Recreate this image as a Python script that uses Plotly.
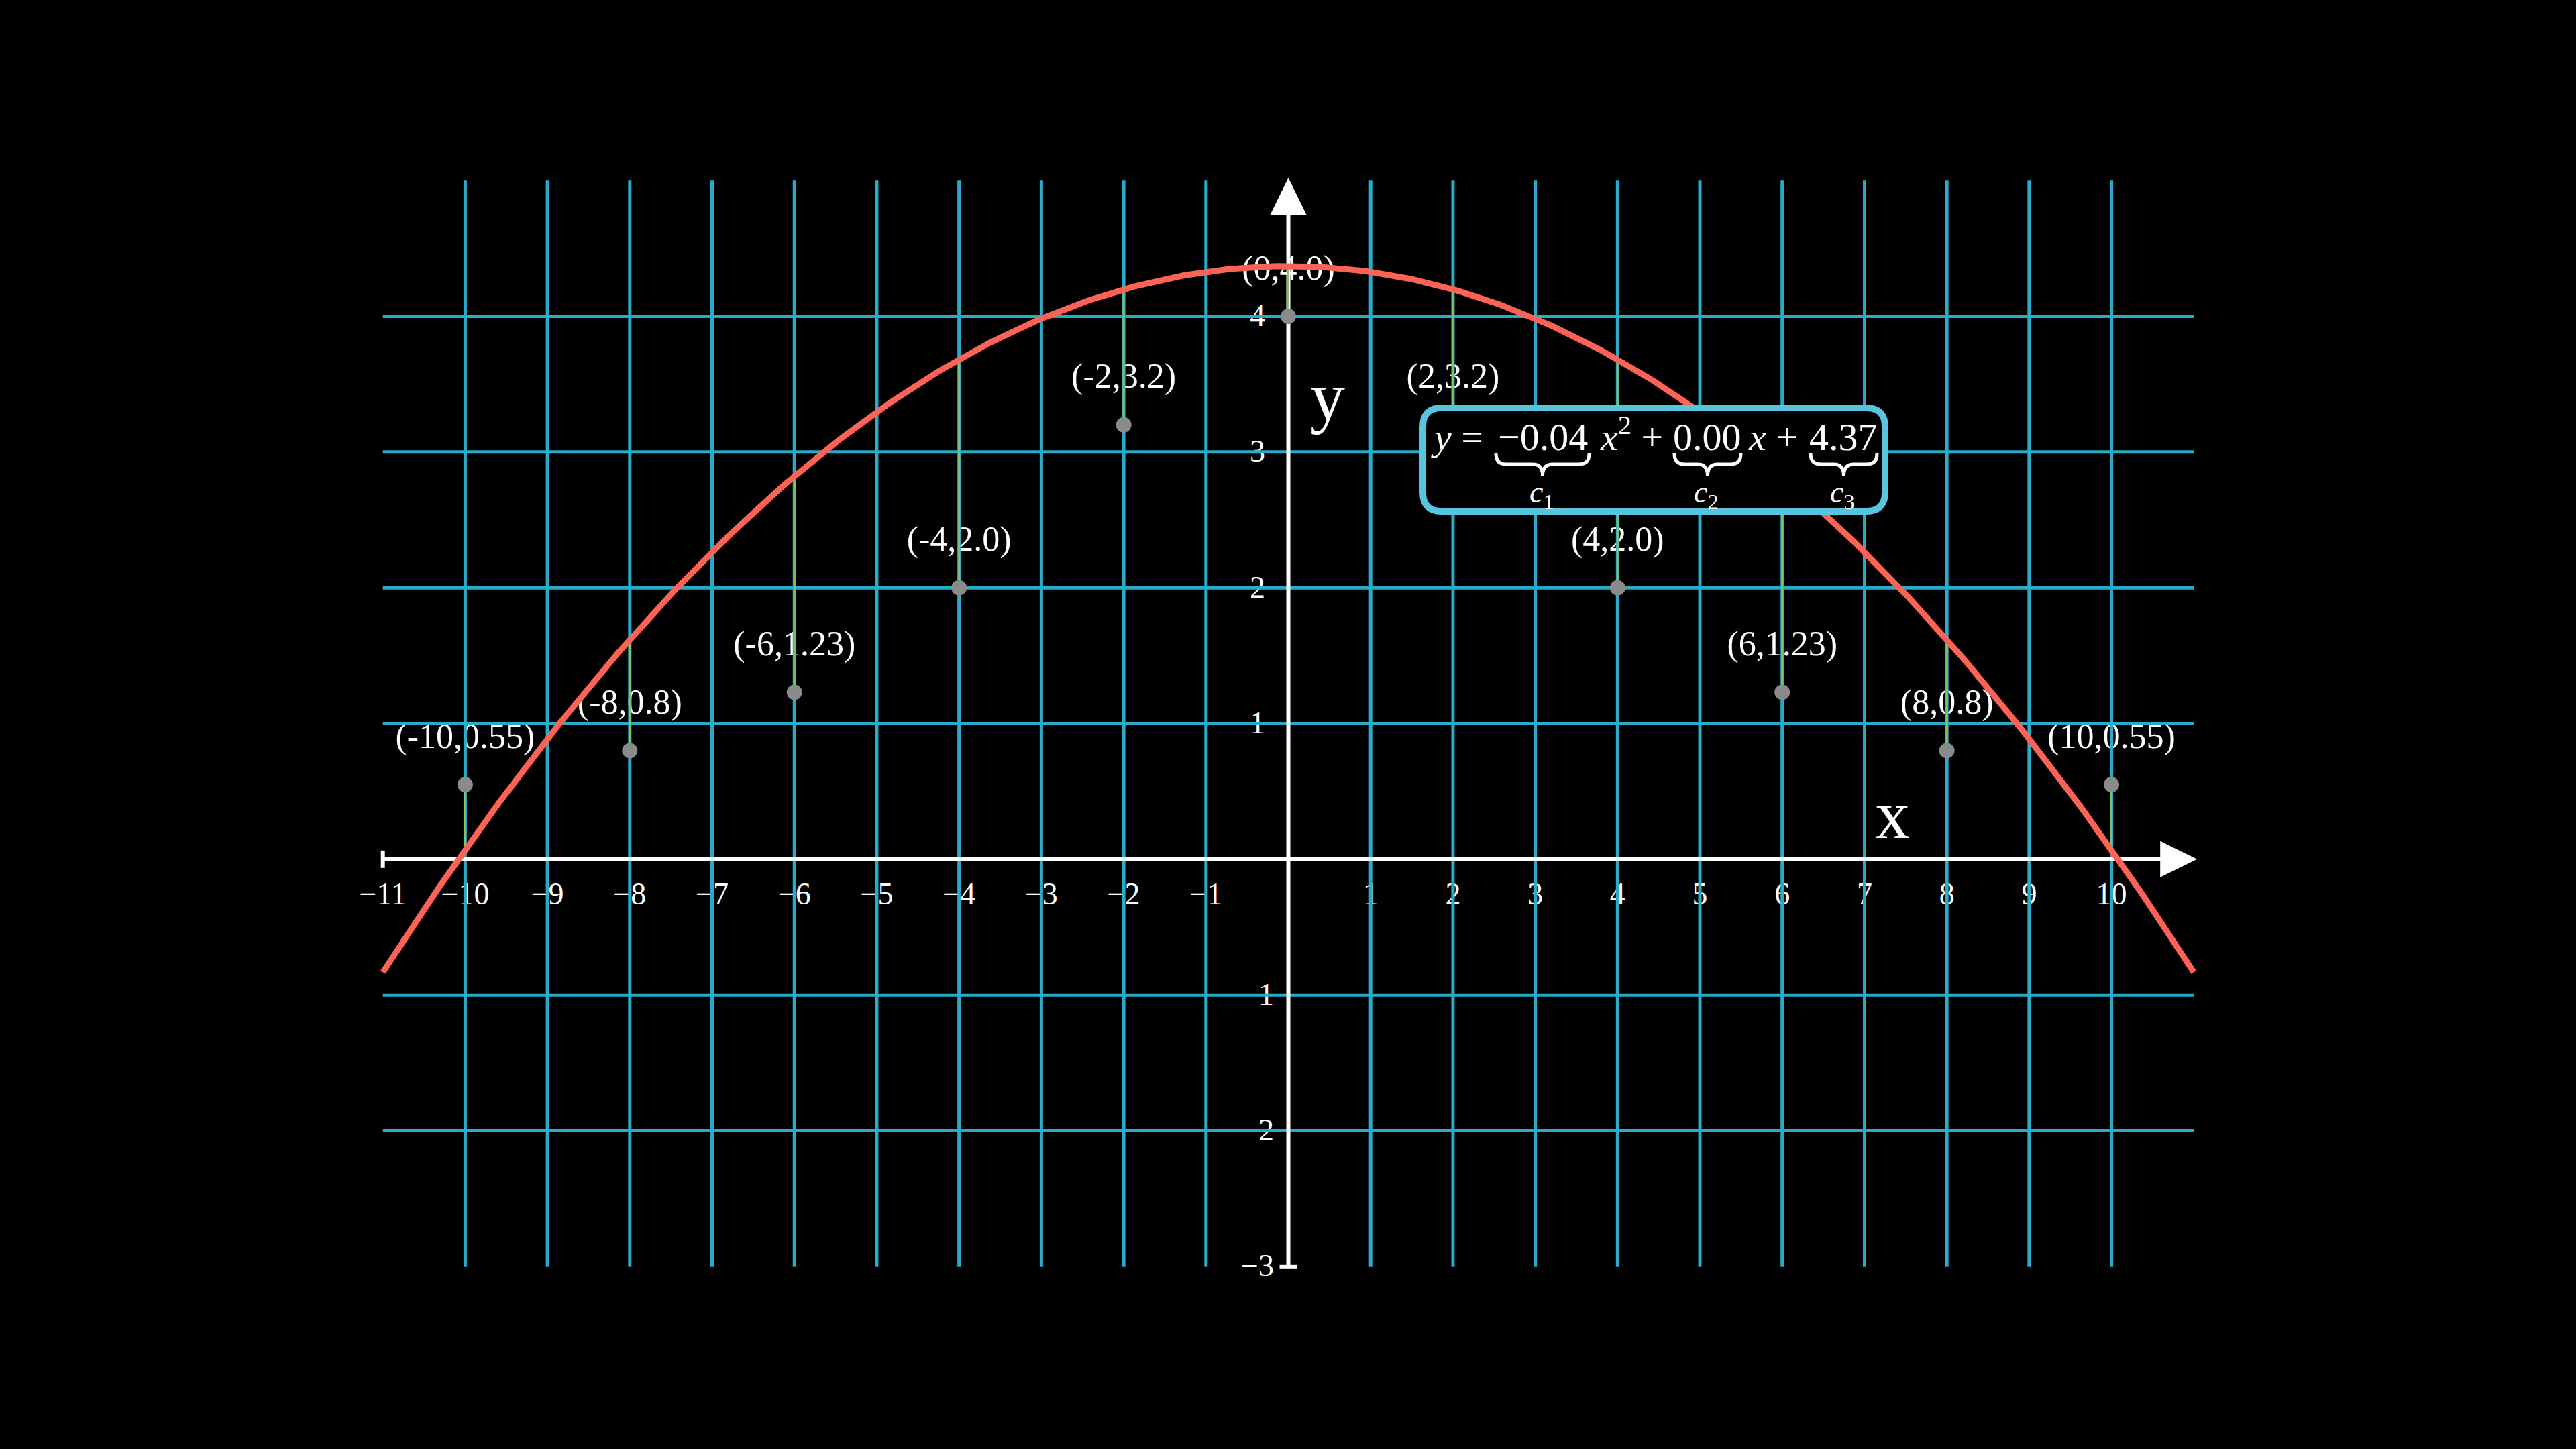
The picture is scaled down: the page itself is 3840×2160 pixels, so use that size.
import numpy as np
import plotly.graph_objects as go

# ------------------------------------------------------------------ data
x_pts = [-10, -8, -6, -4, -2, 0, 2, 4, 6, 8, 10]
y_pts = [0.55, 0.8, 1.23, 2.0, 3.2, 4.0, 3.2, 2.0, 1.23, 0.8, 0.55]
point_labels = ["(-10,0.55)", "(-8,0.8)", "(-6,1.23)", "(-4,2.0)", "(-2,3.2)", "(0,4.0)",
                "(2,3.2)", "(4,2.0)", "(6,1.23)", "(8,0.8)", "(10,0.55)"]
coefs = [-0.043, 0.0, 4.37]          # c1, c2, c3 of the fitted curve
x_tick_vals = [-11, -10, -9, -8, -7, -6, -5, -4, -3, -2, -1, 1, 2, 3, 4, 5, 6, 7, 8, 9, 10]
x_tick_text = ["−11", "−10", "−9", "−8", "−7", "−6", "−5", "−4", "−3", "−2", "−1",
               "1", "2", "3", "4", "5", "6", "7", "8", "9", "10"]
y_tick_vals = [-3, -2, -1, 1, 2, 3, 4]
y_tick_text = ["−3", "−2", "−1", "1", "2", "3", "4"]
x_grid_vals = [-10, -9, -8, -7, -6, -5, -4, -3, -2, -1, 1, 2, 3, 4, 5, 6, 7, 8, 9, 10]
y_grid_vals = [-2, -1, 1, 2, 3, 4]
x_span = [-11, 11]
y_span = [-3, 5]

# ------------------------------------------------------------------ style
BG = "#000000"
GRID = "#29ABCA"
AXIS = "#FFFFFF"
CURVE = "#FC6255"
RESID = "#83C167"
DOT = "#8A8A8A"
BOX = "#58C4DD"
SERIF = "Liberation Serif, DejaVu Serif, serif"

W, H = 3840, 2160
ML, MR, MT, MB = 448, 447, 168, 171
XR = [-12, 12]
YR = [-3.5, 5.5]
UX = (W - ML - MR) / (XR[1] - XR[0])     # px per x unit
UY = (H - MT - MB) / (YR[1] - YR[0])     # px per y unit
X0 = ML - XR[0] * UX                     # pixel of x = 0
Y0 = MT + YR[1] * UY                     # pixel of y = 0


def px2x(px):
    return (px - X0) / UX


def px2y(py):
    return (Y0 - py) / UY


def f(x):
    return coefs[0] * x ** 2 + coefs[1] * x + coefs[2]


fig = go.Figure()

# point labels (under grid, like the reference)
lab_off = 68 / UY
fig.add_trace(go.Scatter(
    x=x_pts, y=[v + lab_off for v in y_pts], text=point_labels, mode="text",
    textposition="middle center", textfont=dict(family=SERIF, size=52, color="white"),
    hoverinfo="skip", showlegend=False))

# tick labels
fig.add_trace(go.Scatter(
    x=x_tick_vals, y=[px2y(Y0 + 56)] * len(x_tick_vals), text=x_tick_text, mode="text",
    textposition="middle center", textfont=dict(family=SERIF, size=46, color="white"),
    hoverinfo="skip", showlegend=False))
y_lab_text = []
for v, t in zip(y_tick_vals, y_tick_text):
    if v in y_grid_vals and t.startswith("−"):
        t = '<span style="color:%s">−</span>%s' % (GRID, t[1:])
    y_lab_text.append(t)
fig.add_trace(go.Scatter(
    x=[px2x(X0 - 46)] * len(y_tick_vals), y=[v - 3 / UY for v in y_tick_vals],
    text=y_lab_text, mode="text",
    textposition="middle center", textfont=dict(family=SERIF, size=46, color="white"),
    hoverinfo="skip", showlegend=False))

# grid lines
gx, gy = [], []
for v in x_grid_vals:
    gx += [v, v, None]
    gy += [y_span[0], y_span[1], None]
for v in y_grid_vals:
    gx += [x_span[0], x_span[1], None]
    gy += [v, v, None]
fig.add_trace(go.Scatter(x=gx, y=gy, mode="lines", line=dict(color=GRID, width=5),
                         hoverinfo="skip", showlegend=False))

# axes
x_tip = px2x(X0 + 11.04 * UX)
y_tip = 5.02
arr_len_px = 55
fig.add_trace(go.Scatter(
    x=[x_span[0], x_tip - arr_len_px / UX + 0.02, None, 0, 0, None,
       x_span[0], x_span[0], None, -13 / UX, 13 / UX],
    y=[0, 0, None, y_span[0], y_tip - arr_len_px / UY + 0.02, None,
       -13 / UY, 13 / UY, None, y_span[0], y_span[0]],
    mode="lines", line=dict(color=AXIS, width=6), hoverinfo="skip", showlegend=False))

# residual lines
rx, ry = [], []
for xv, yv in zip(x_pts, y_pts):
    rx += [xv, xv, None]
    ry += [yv, f(xv), None]
fig.add_trace(go.Scatter(x=rx, y=ry, mode="lines", line=dict(color=RESID, width=3),
                         hoverinfo="skip", showlegend=False))

# fitted curve
xc = np.linspace(x_span[0], x_span[1], 400)
fig.add_trace(go.Scatter(x=xc, y=f(xc), mode="lines", line=dict(color=CURVE, width=9),
                         hoverinfo="skip", showlegend=False))

# data dots
fig.add_trace(go.Scatter(x=x_pts, y=y_pts, mode="markers",
                         marker=dict(color=DOT, size=23, line=dict(width=0)),
                         hoverinfo="skip", showlegend=False))

shapes = []
# arrow heads
hw = 27
shapes.append(dict(type="path", xref="x", yref="y", layer="above",
                   path="M %f,0 L %f,%f L %f,%f Z" % (
                       x_tip, x_tip - arr_len_px / UX, hw / UY, x_tip - arr_len_px / UX, -hw / UY),
                   fillcolor=AXIS, line=dict(width=0)))
shapes.append(dict(type="path", xref="x", yref="y", layer="above",
                   path="M 0,%f L %f,%f L %f,%f Z" % (
                       y_tip, hw / UX, y_tip - arr_len_px / UY, -hw / UX, y_tip - arr_len_px / UY),
                   fillcolor=AXIS, line=dict(width=0)))

# equation box (rounded)
bl, br, bt, bb, rad = 2121, 2810, 608, 762, 28
xl, xr_, yt, yb = px2x(bl), px2x(br), px2y(bt), px2y(bb)
rx_, ry_ = rad / UX, rad / UY
box_path = ("M %f,%f L %f,%f Q %f,%f %f,%f L %f,%f Q %f,%f %f,%f L %f,%f Q %f,%f %f,%f "
            "L %f,%f Q %f,%f %f,%f Z") % (
    xl + rx_, yt, xr_ - rx_, yt, xr_, yt, xr_, yt - ry_,
    xr_, yb + ry_, xr_, yb, xr_ - rx_, yb,
    xl + rx_, yb, xl, yb, xl, yb + ry_,
    xl, yt - ry_, xl, yt, xl + rx_, yt)
shapes.append(dict(type="path", xref="x", yref="y", layer="above", path=box_path,
                   fillcolor=BG, line=dict(color=BOX, width=10)))


def brace(p0, p1, ptop=676, pmid=692, ptip=709):
    xa, xb = px2x(p0), px2x(p1)
    xm = (xa + xb) / 2
    q = 15 / UX
    a, m, t = px2y(ptop), px2y(pmid), px2y(ptip)
    return ("M %f,%f Q %f,%f %f,%f L %f,%f Q %f,%f %f,%f Q %f,%f %f,%f L %f,%f Q %f,%f %f,%f") % (
        xa, a, xa, m, xa + q, m, xm - q, m, xm, m, xm, t,
        xm, m, xm + q, m, xb - q, m, xb, m, xb, a)


for p0, p1 in [(2230, 2369), (2496, 2595), (2699, 2798)]:
    shapes.append(dict(type="path", xref="x", yref="y", layer="above", path=brace(p0, p1),
                       line=dict(color="white", width=5)))

annotations = []
c_fmt = ["%.2f" % c for c in coefs]
c_fmt = [s.replace("-", "−") for s in c_fmt]
eq_parts = [
    ("<i>y</i> =", 2172),
    (c_fmt[0], 2300),
    ("<i>x</i><sup>2</sup> +", 2432),
    (c_fmt[1], 2545),
    ("<i>x</i> +", 2643),
    (c_fmt[2], 2748),
]
for txt, px in eq_parts:
    annotations.append(dict(x=px2x(px), y=px2y(686), xref="x", yref="y", text=txt,
                            showarrow=False, xanchor="center", yanchor="bottom",
                            font=dict(family=SERIF, size=58, color="white")))
for i, px in enumerate([2298, 2543, 2746]):
    annotations.append(dict(x=px2x(px), y=px2y(706), xref="x", yref="y",
                            text="<i>c</i><sub>%d</sub>" % (i + 1),
                            showarrow=False, xanchor="center", yanchor="top",
                            font=dict(family=SERIF, size=46, color="white")))
# axis names
annotations.append(dict(x=px2x(1979), y=px2y(590), xref="x", yref="y", text="y",
                        showarrow=False, font=dict(family=SERIF, size=104, color="white")))
annotations.append(dict(x=px2x(2821), y=px2y(1213), xref="x", yref="y", text="x",
                        showarrow=False, font=dict(family=SERIF, size=104, color="white")))

fig.update_layout(
    width=W, height=H, autosize=False,
    margin=dict(l=ML, r=MR, t=MT, b=MB, pad=0),
    paper_bgcolor=BG, plot_bgcolor=BG,
    xaxis=dict(range=XR, visible=False, fixedrange=True),
    yaxis=dict(range=YR, visible=False, fixedrange=True),
    shapes=shapes, annotations=annotations, showlegend=False,
)

fig.write_html("out.html", config={"displayModeBar": False},
               post_script="document.body.style.margin='0';document.body.style.background='#000';")
